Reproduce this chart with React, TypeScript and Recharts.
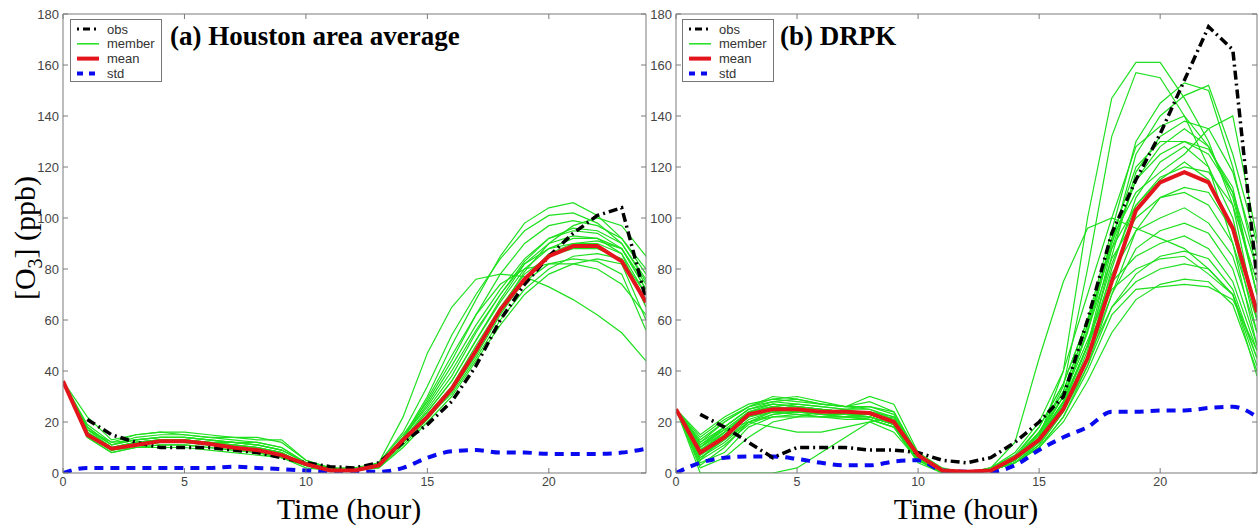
import React from 'react';
import { LineChart, Line, XAxis, YAxis } from 'recharts';

// ---------- categories & ticks ----------
const hours = [0, 1, 2, 3, 4, 5, 6, 7, 8, 9, 10, 11, 12, 13, 14, 15, 16, 17, 18, 19, 20, 21, 22, 23, 24];
const xTicks = [0, 5, 10, 15, 20];
const yTicks = [0, 20, 40, 60, 80, 100, 120, 140, 160, 180];

// ---------- (a) Houston area average ----------
const houstonObs = [null, 21, 15, 12, 10, 10, 10, 9, 8, 6, 4, 2.5, 2, 4, 12, 19, 28, 42, 60, 74, 85, 94, 101, 104, 68];
const houstonMean = [36, 15, 9.5, 11, 12.5, 12.5, 11.5, 10, 9, 7, 3.5, 1, 1, 3, 13, 22, 33, 48, 64, 76, 85, 89, 89, 83, 67];
const houstonStd = [0, 2, 2, 2, 2, 2, 2, 2.5, 2, 1.5, 1, 0.5, 0.5, 0.5, 2, 6, 8.5, 9, 8, 8, 7.5, 7.5, 7.5, 8, 9.5];
const houstonMembers = [
  [36, 18, 11, 14, 15, 15, 14, 13, 12, 10, 4, 2, 1, 3, 14, 26, 40, 56, 70, 83, 92, 96, 95, 90, 75],
  [36, 16, 10, 12, 13, 13, 12, 11, 10, 8, 3, 1, 1, 3, 13, 24, 36, 52, 67, 80, 88, 92, 92, 88, 72],
  [36, 22, 13, 15, 16, 16, 15, 14, 14, 12, 5, 2, 2, 4, 22, 47, 65, 76, 78, 77, 73, 68, 62, 55, 44],
  [36, 15, 9, 11, 12, 12, 11, 10, 9, 7, 3, 1, 1, 3, 14, 30, 50, 68, 85, 98, 104, 106, 101, 92, 80],
  [36, 17, 12, 13, 14, 14, 13, 12, 11, 9, 4, 2, 1, 3, 12, 22, 33, 48, 64, 79, 90, 97, 100, 97, 85],
  [36, 14, 8, 10, 11, 11, 10, 9, 8, 6, 3, 1, 1, 2, 11, 21, 32, 46, 62, 76, 86, 90, 91, 88, 74],
  [36, 16, 10, 12, 13, 13, 12, 12, 11, 9, 4, 2, 1, 4, 15, 28, 44, 62, 78, 90, 97, 99, 97, 92, 78],
  [36, 15, 9, 11, 12, 12, 11, 10, 9, 7, 3, 1, 1, 3, 12, 22, 31, 45, 60, 72, 80, 85, 86, 84, 70],
  [36, 17, 11, 13, 14, 14, 13, 12, 11, 9, 4, 1, 1, 3, 13, 24, 36, 52, 68, 82, 90, 93, 92, 86, 65],
  [36, 15, 9, 10, 11, 11, 10, 9, 8, 6, 3, 1, 1, 3, 12, 23, 34, 50, 65, 78, 85, 88, 88, 84, 68],
  [36, 19, 12, 15, 16, 15, 14, 14, 13, 13, 5, 2, 1, 4, 16, 34, 54, 70, 84, 95, 101, 102, 98, 90, 76],
  [36, 14, 8, 10, 10, 10, 9, 8, 7, 6, 2, 1, 1, 2, 10, 20, 30, 44, 58, 70, 78, 82, 84, 82, 60],
  [36, 16, 10, 12, 13, 13, 12, 11, 10, 8, 3, 1, 1, 3, 13, 25, 38, 55, 70, 82, 88, 90, 90, 86, 70],
  [36, 18, 11, 13, 14, 14, 13, 12, 12, 10, 4, 2, 1, 3, 14, 27, 42, 58, 72, 84, 92, 95, 94, 88, 72],
  [36, 15, 9, 11, 12, 12, 11, 10, 9, 7, 3, 1, 1, 3, 12, 22, 32, 47, 63, 75, 82, 84, 83, 78, 56],
  [36, 17, 10, 12, 13, 13, 12, 11, 10, 8, 3, 1, 1, 3, 13, 29, 46, 62, 74, 80, 82, 82, 80, 74, 62],
];

// ---------- (b) DRPK ----------
const drpkObs = [null, 23, 18, 12, 6, 10, 10, 10, 9, 9, 8, 5, 4, 6, 12, 20, 30, 60, 94, 115, 133, 154, 175, 166, 76];
const drpkMean = [25, 8, 14, 23, 25, 25, 24, 24, 23.5, 20, 7, 1, 0.5, 1, 6, 13, 25, 45, 75, 103, 114, 118, 114, 96, 63];
const drpkStd = [0, 4, 6, 6.5, 6.5, 5.5, 4, 3, 3, 4.5, 5, 1, 0.5, 0.5, 3, 9, 14, 18, 24, 24, 24.5, 24.5, 25.5, 26, 22];
const drpkMembers = [
  [25, 5, 15, 24, 27, 26, 25, 24, 24, 22, 6, 1, 0, 1, 5, 14, 40, 100, 147, 161, 161, 147, 130, 105, 60],
  [25, 8, 16, 23, 26, 27, 26, 25, 23, 20, 5, 1, 0, 1, 6, 15, 34, 80, 132, 157, 155, 140, 120, 90, 50],
  [25, 10, 18, 25, 28, 29, 27, 26, 26, 23, 7, 1, 0, 2, 7, 18, 35, 60, 95, 130, 145, 153, 150, 120, 80],
  [25, 12, 20, 26, 28, 27, 26, 25, 25, 22, 6, 1, 0, 1, 5, 16, 30, 55, 90, 125, 140, 148, 152, 125, 90],
  [25, 3, 10, 20, 24, 25, 24, 23, 22, 19, 5, 0, 0, 1, 4, 12, 25, 48, 85, 118, 132, 138, 135, 118, 85],
  [25, 15, 22, 27, 29, 28, 27, 26, 30, 27, 8, 2, 0, 2, 8, 20, 40, 70, 100, 128, 136, 140, 128, 110, 70],
  [25, 7, 14, 22, 25, 26, 25, 24, 24, 21, 6, 1, 0, 1, 5, 13, 26, 50, 88, 115, 125, 130, 127, 112, 70],
  [25, 6, 12, 20, 23, 24, 24, 23, 22, 19, 5, 1, 0, 1, 4, 11, 24, 45, 80, 108, 122, 128, 120, 100, 60],
  [25, 9, 16, 24, 26, 25, 24, 23, 23, 20, 6, 1, 0, 1, 6, 16, 32, 58, 92, 110, 118, 125, 135, 140, 92],
  [25, 11, 18, 25, 27, 26, 25, 24, 23, 20, 6, 1, 0, 1, 6, 18, 35, 60, 88, 105, 115, 122, 115, 95, 55],
  [25, 4, 8, 18, 22, 23, 22, 22, 21, 18, 4, 0, 0, 1, 4, 10, 22, 42, 70, 95, 108, 112, 110, 95, 65],
  [25, 13, 20, 26, 30, 29, 27, 26, 28, 24, 7, 1, 0, 2, 12, 45, 75, 96, 100, 96, 92, 88, 80, 70, 45],
  [25, 8, 14, 22, 25, 24, 23, 22, 21, 18, 5, 1, 0, 1, 5, 14, 28, 50, 78, 95, 100, 104, 98, 85, 55],
  [25, 6, 13, 21, 24, 24, 23, 22, 22, 19, 5, 1, 0, 1, 5, 12, 25, 45, 70, 88, 95, 98, 94, 80, 50],
  [25, 10, 17, 24, 26, 25, 24, 24, 23, 20, 6, 1, 0, 1, 6, 15, 30, 52, 75, 85, 90, 93, 88, 75, 48],
  [25, 5, 11, 19, 23, 24, 23, 23, 22, 19, 5, 0, 0, 1, 4, 11, 24, 42, 65, 78, 85, 87, 84, 72, 45],
  [25, 12, 18, 25, 27, 26, 25, 24, 23, 20, 6, 1, 0, 1, 5, 14, 26, 45, 65, 75, 80, 82, 80, 70, 42],
  [25, 7, 13, 20, 22, 22, 22, 21, 21, 18, 5, 1, 0, 1, 4, 10, 20, 36, 55, 68, 74, 76, 75, 66, 40],
  [25, 9, 15, 22, 24, 23, 22, 22, 22, 19, 5, 1, 0, 1, 5, 13, 27, 50, 72, 80, 84, 85, 78, 70, 38],
  [25, 0, 0, 0, 0, 2, 8, 14, 20, 22, 8, 1, 0, 1, 4, 10, 22, 40, 62, 72, 73, 74, 73, 68, 48],
  [25, 11, 17, 20, 18, 16, 16, 18, 20, 16, 5, 1, 0, 1, 5, 14, 30, 56, 84, 100, 108, 110, 105, 90, 60],
  [25, 14, 21, 26, 29, 30, 28, 26, 25, 21, 6, 1, 0, 1, 6, 16, 32, 58, 90, 115, 128, 135, 128, 108, 70],
  [25, 2, 6, 14, 20, 22, 24, 25, 26, 24, 7, 1, 0, 1, 5, 14, 28, 50, 82, 105, 116, 120, 118, 105, 75],
  [25, 10, 16, 23, 25, 25, 24, 23, 23, 20, 6, 1, 0, 1, 5, 13, 28, 56, 92, 120, 130, 130, 125, 110, 80],
];

const GREEN = '#1ee01e';
const RED = '#e3141b';
const BLUE = '#0a0af0';
const AXIS = '#7a7a7a';

function buildRows(obs: (number | null)[], mean: number[], std: number[], members: number[][]) {
  return hours.map((h, i) => {
    const row: Record<string, number | null> = { hour: h, obs: obs[i], mean: mean[i], std: std[i] };
    members.forEach((m, j) => {
      row['m' + j] = m[i];
    });
    return row;
  });
}

const houstonRows = buildRows(houstonObs, houstonMean, houstonStd, houstonMembers);
const drpkRows = buildRows(drpkObs, drpkMean, drpkStd, drpkMembers);

const EmptyTick = () => <g />;

type PanelProps = {
  left: number;
  width: number;
  margin: { top: number; right: number; bottom: number; left: number };
  rows: Record<string, number | null>[];
  memberCount: number;
};

function Panel({ left, width, margin, rows, memberCount }: PanelProps) {
  const yTickStyle = { fontSize: 13, fill: '#444', fontFamily: 'Liberation Sans, Arial, sans-serif' };
  const xTickStyle = { fontSize: 12.5, fill: '#444', fontFamily: 'Liberation Sans, Arial, sans-serif' };
  return (
    <div style={{ position: 'absolute', left, top: 0 }}>
      <LineChart width={width} height={527} data={rows} margin={margin}>
        <XAxis
          dataKey="hour"
          type="number"
          domain={[0, 24]}
          ticks={xTicks}
          height={30}
          tickSize={-5}
          tickMargin={9}
          tick={xTickStyle}
          stroke={AXIS}
          allowDataOverflow
        />
        <XAxis
          xAxisId="top"
          orientation="top"
          type="number"
          domain={[0, 24]}
          ticks={xTicks}
          height={1}
          tickSize={-5}
          tick={EmptyTick}
          stroke={AXIS}
          allowDataOverflow
        />
        <YAxis
          type="number"
          domain={[0, 180]}
          ticks={yTicks}
          width={30}
          tickSize={-5}
          tickMargin={9}
          tick={yTickStyle}
          stroke={AXIS}
          allowDataOverflow
        />
        <YAxis
          yAxisId="right"
          orientation="right"
          type="number"
          domain={[0, 180]}
          ticks={yTicks}
          width={1}
          tickSize={-5}
          tick={EmptyTick}
          stroke={AXIS}
          allowDataOverflow
        />
        {Array.from({ length: memberCount }, (_, j) => (
          <Line
            key={'m' + j}
            dataKey={'m' + j}
            stroke={GREEN}
            strokeWidth={1.2}
            dot={false}
            isAnimationActive={false}
          />
        ))}
        <Line dataKey="std" stroke={BLUE} strokeWidth={4} strokeDasharray="9 7" dot={false} isAnimationActive={false} type="monotone" />
        <Line dataKey="obs" stroke="#000" strokeWidth={3.5} strokeDasharray="9 4 2 4" dot={false} isAnimationActive={false} />
        <Line dataKey="mean" stroke={RED} strokeWidth={4} dot={false} isAnimationActive={false} />
      </LineChart>
    </div>
  );
}

function LegendBox({ x, y }: { x: number; y: number }) {
  const items = [
    { label: 'obs', color: '#000', width: 3, dash: '2 4 7 4' },
    { label: 'member', color: GREEN, width: 1.5, dash: undefined },
    { label: 'mean', color: RED, width: 4, dash: undefined },
    { label: 'std', color: BLUE, width: 4, dash: '6 6' },
  ];
  return (
    <g>
      <rect x={x + 0.5} y={y + 0.5} width={91} height={62} fill="#fff" stroke="#777" strokeWidth={1} />
      {items.map((it, i) => {
        const cy = y + 10 + i * 14.8;
        return (
          <g key={it.label}>
            <line x1={x + 7} x2={x + 29} y1={cy} y2={cy} stroke={it.color} strokeWidth={it.width} strokeDasharray={it.dash} />
            <text x={x + 37} y={cy + 4.5} fontSize={13} fill="#333" fontFamily="Liberation Sans, Arial, sans-serif">
              {it.label}
            </text>
          </g>
        );
      })}
    </g>
  );
}

export default function App() {
  const serif = 'Liberation Serif, Times New Roman, serif';
  return (
    <div style={{ position: 'absolute', left: 0, top: 0, width: 1259, height: 527, background: '#fff', overflow: 'hidden' }}>
      <Panel left={0} width={660} margin={{ top: 13, left: 33, right: 13, bottom: 24 }} rows={houstonRows} memberCount={houstonMembers.length} />
      <Panel left={620} width={639} margin={{ top: 13, left: 26, right: 1, bottom: 24 }} rows={drpkRows} memberCount={drpkMembers.length} />
      <svg width={1259} height={527} style={{ position: 'absolute', left: 0, top: 0, pointerEvents: 'none' }}>
        <LegendBox x={70} y={19} />
        <LegendBox x={682} y={19} />
        <text x={170} y={45} fontSize={27} fontWeight="bold" fontFamily={serif} fill="#000">
          (a) Houston area average
        </text>
        <text x={780} y={45} fontSize={27} fontWeight="bold" fontFamily={serif} fill="#000">
          (b) DRPK
        </text>
        <text x={349} y={519} fontSize={30} textAnchor="middle" fontFamily={serif} fill="#000">
          Time (hour)
        </text>
        <text x={966} y={519} fontSize={30} textAnchor="middle" fontFamily={serif} fill="#000">
          Time (hour)
        </text>
        <text transform="translate(35,238) rotate(-90)" fontSize={30} textAnchor="middle" fontFamily={serif} fill="#000">
          [O<tspan fontSize={20} dy={7}>3</tspan>
          <tspan dy={-7}>] (ppb)</tspan>
        </text>
      </svg>
    </div>
  );
}
